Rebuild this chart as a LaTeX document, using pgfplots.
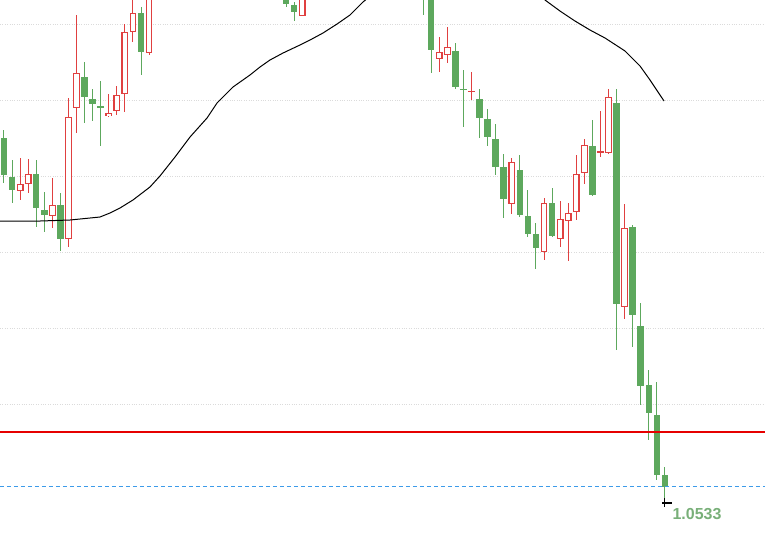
\documentclass[border=0pt]{standalone}
\usepackage{pgfplots}
\pgfplotsset{compat=1.18}
\usepackage{pgfplotstable}
\usepackage{fontspec}
\setmainfont{Liberation Sans}

\definecolor{upred}{HTML}{E04040}
\definecolor{downgreen}{HTML}{5DA85D}
\definecolor{lvlred}{HTML}{E60000}
\definecolor{lastblue}{HTML}{3D9BE9}
\definecolor{labelgreen}{HTML}{78AF78}

% prices in screen units (0 = top edge, 540 = bottom edge)
% down candles (filled green)
\pgfplotstableread{
i  o    h    l    c
0  138  130  183  175
1  177  160  203  190
4  174  160  227  208
5  210  192  232  215
7  205  193  251  239
10 77   62   123  97
11 99   89   121  104
12 106  81   146  107.5
17 13   7    75   52
20 -45  -60  -25  -30
23 -80  -92  -50  -58
25 -78  -95  -60  -66
27 -96  -110 -70  -78
28 -78  -88  -52  -60
30 -74  -80  -40  -46
31 -46  -58  -22  -30
33 -44  -50  -12  -18
34 -18  -30  -4   -8
35 -8   -14  7    4
36 5    2    21   12
39 -42  -60  -20  -28
42 -92  -110 -70  -80
44 -110 -125 -88  -96
45 -96  -106 -70  -78
47 -90  -96  -55  -62
48 -62  -75  -40  -48
50 -60  -66  -28  -35
51 -35  -44  -5   -12
52 -12  -20  15   -3
53 -3   -8   73   50
56 51   43   89   87
57 88.5 70   127  90
59 99   89   138  118
60 119  109  146  137
61 139  124  175  167
62 167  154  218  199
64 170  155  217  215
65 216  190  237  234
66 234  223  269  248
68 203  188  237  236
73 146  120  196  195
76 103  89   350  304
78 227  225  347  315
79 326  303  405  386
80 385  370  440  413
81 415  382  480  475
82 475  467  503  487
}\downcandles

% up candles (hollow red)
\pgfplotstableread{
i  o    h    l    c
2  191  158  200  184
3  184  159  193  174
6  216  178  228  205
8  239  98   247  117
9  108  15   133  73
13 116  94   117  113
14 111  86   115  95
15 94   24   112  32
16 32   -5   42   13
18 53   -30  55   -20
19 -20  -52  -12  -45
21 -30  -70  -24  -62
22 -62  -88  -55  -80
24 -58  -85  -50  -78
26 -66  -104 -60  -96
29 -60  -82  -50  -74
32 -30  -52  -24  -44
37 16   -22  16   -14
38 -14  -50  -8   -42
40 -28  -75  -22  -68
41 -68  -100 -60  -92
43 -80  -120 -72  -110
46 -78  -98  -70  -90
49 -48  -70  -42  -60
54 59   37   72   52
55 55   27   63   47
58 92   72   100  90.5
63 204  158  214  162
67 252  198  260  203
69 239  201  247  219
70 221  203  261  213
71 212  155  220  174
72 173  139  184  145
74 153  111  157  151
75 153  89   154  97
77 307  204  319  228
}\upcandles

% moving average
\pgfplotstableread{
i      v
-0.50  221
4.47   221
8.19   220
10.67  218
11.91  217
13.15  213
14.39  208
16.00  200
18.11  187
19.35  176
21.22  157
23.08  137
25.19  118
26.43  103
28.41  87
30.52  75
31.76  67
33.00  60
34.62  53
36.72  45
37.97  40
39.58  33
41.32  24
42.93  15
44.54  2
46.65  -12
51.60  -35
57.80  -40
64.00  -25
67.12  0
68.98  11
70.84  21
72.70  30
74.57  38
77.05  51
78.91  66
80.15  80
81.14  92
81.89  101
}\mavg

\pgfplotsset{
    candle/.style n args={2}{draw=none, mark=none, forget plot,
        error bars/.cd, y dir=both, y explicit, error mark=none,
        error bar style={line width=#1, draw=#2}},
}

\begin{document}
\begin{tikzpicture}
\useasboundingbox (0,0) rectangle (765bp,540bp);
\begin{axis}[
    at={(0,0)}, anchor=south west,
    scale only axis, width=765bp, height=540bp,
    xmin=-0.496, xmax=94.417, ymin=0, ymax=540,
    y dir=reverse,
    axis line style={draw=none}, tick style={draw=none},
    xtick=\empty, ytick={24,100,176,252,328,404}, yticklabels={},
    ymajorgrids,
    major grid style={dotted, color=black!14, line width=0.7bp},
]
% wicks
\addplot[candle={1bp}{downgreen}]
    table[x=i, y expr={(\thisrow{h}+\thisrow{l})/2}, y error expr={(\thisrow{l}-\thisrow{h})/2}] {\downcandles};
\addplot[candle={1bp}{upred}]
    table[x=i, y expr={(\thisrow{h}+\thisrow{l})/2}, y error expr={(\thisrow{l}-\thisrow{h})/2}] {\upcandles};

% bodies
\addplot[candle={6.5bp}{downgreen}]
    table[x=i, y expr={(\thisrow{o}+\thisrow{c})/2}, y error expr={abs(\thisrow{o}-\thisrow{c})/2}] {\downcandles};
\addplot[candle={6.8bp}{upred}]
    table[x=i, y expr={(\thisrow{o}+\thisrow{c})/2}, y error expr={abs(\thisrow{o}-\thisrow{c})/2}] {\upcandles};
\addplot[candle={4.4bp}{white}]
    table[x=i, y expr={(\thisrow{o}+\thisrow{c})/2}, y error expr={max(abs(\thisrow{o}-\thisrow{c})/2-1.2,0)}] {\upcandles};

% moving average, drawn over the candles
\addplot[black, line width=1bp, mark=none, forget plot] table[x=i, y=v] {\mavg};

% level line and last price
\addplot[lvlred, line width=2.4bp, mark=none, forget plot] coordinates {(-0.5,432) (95,432)};
\addplot[lastblue, line width=0.9bp, dash pattern=on 4bp off 3bp, mark=none, forget plot] coordinates {(-0.5,486.5) (95,486.5)};
\addplot[black, line width=1.2bp, mark=none, forget plot] coordinates {(81.64,503) (82.88,503)};
\addplot[black, line width=1bp, mark=none, forget plot] coordinates {(82.0,498) (82.0,507)};

\node[anchor=center, inner sep=0pt, text=labelgreen, font=\fontsize{16}{19}\selectfont\bfseries] at (axis cs:85.98,514) {1.0533};
\end{axis}
\end{tikzpicture}
\end{document}
